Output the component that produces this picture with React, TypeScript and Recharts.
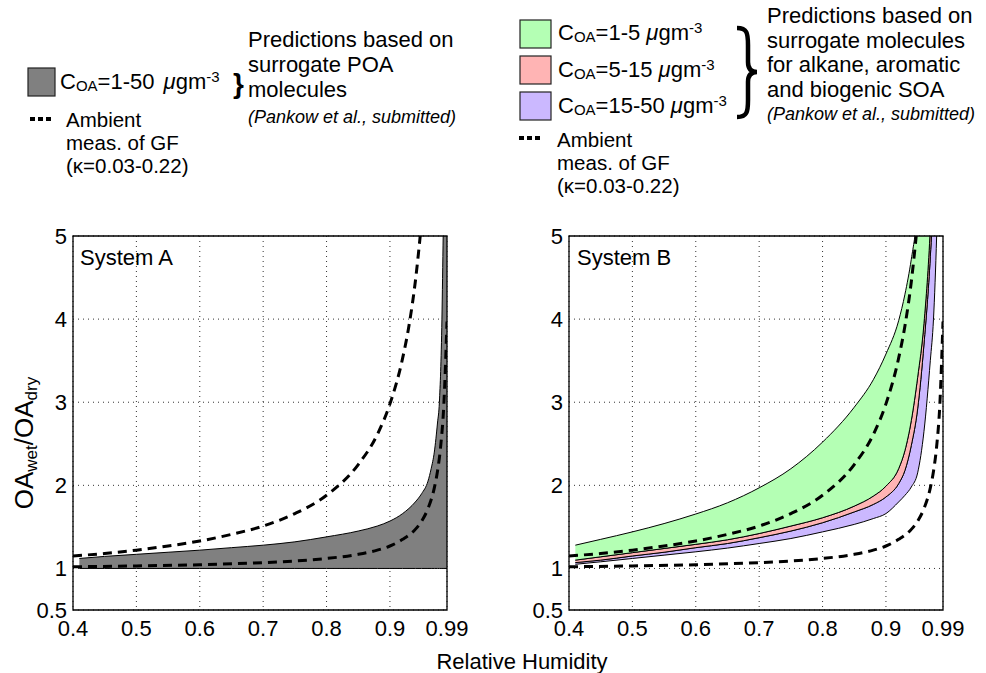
import { ComposedChart, Area, Line, XAxis, YAxis, CartesianGrid, ReferenceArea } from "recharts";

const FONT = '"Liberation Sans", Arial, Helvetica, sans-serif';

// axis ticks
const X_TICKS = [0.4, 0.5, 0.6, 0.7, 0.8, 0.9, 0.99];
const Y_TICKS = [0.5, 1, 2, 3, 4, 5];

// ambient GF measurements (dashed), upper and lower bound
const GF_HIGH_RH = [0.4, 0.45, 0.5, 0.55, 0.6, 0.65, 0.7, 0.75, 0.8, 0.85, 0.88, 0.9, 0.92, 0.93, 0.94, 0.95, 0.955];
const GF_HIGH = [1.15, 1.18, 1.22, 1.27, 1.33, 1.41, 1.51, 1.66, 1.88, 2.25, 2.61, 2.98, 3.53, 3.92, 4.45, 5.18, 5.6];
const GF_LOW_RH = [0.4, 0.5, 0.6, 0.7, 0.75, 0.8, 0.85, 0.88, 0.9, 0.92, 0.94, 0.95, 0.96, 0.97, 0.975, 0.98, 0.985, 0.99];
const GF_LOW = [1.02, 1.03, 1.045, 1.07, 1.09, 1.12, 1.17, 1.22, 1.27, 1.35, 1.47, 1.57, 1.72, 1.97, 2.17, 2.47, 2.97, 3.97];

// System A: POA surrogates, C_OA = 1-50
const A_RH = [0.41, 0.45, 0.5, 0.55, 0.6, 0.65, 0.7, 0.75, 0.8, 0.85, 0.88, 0.9, 0.92, 0.94, 0.95, 0.96, 0.965, 0.97, 0.975, 0.978, 0.982, 0.984, 0.99];
const A_LOW = [1, 1, 1, 1, 1, 1, 1, 1, 1, 1, 1, 1, 1, 1, 1, 1, 1, 1, 1, 1, 1, 1, 1];
const A_HIGH = [1.12, 1.145, 1.17, 1.195, 1.22, 1.25, 1.28, 1.32, 1.38, 1.45, 1.51, 1.57, 1.66, 1.8, 1.9, 2.05, 2.2, 2.4, 2.75, 3.0, 4.0, 5.0, 7.0];

// System B: SOA surrogates, band edges
const B_RH = [0.41, 0.45, 0.5, 0.55, 0.6, 0.65, 0.7, 0.75, 0.8, 0.85, 0.88, 0.9, 0.92, 0.93, 0.94, 0.95, 0.96, 0.97, 0.975, 0.98, 0.985];
const B_GREEN_TOP = [1.28, 1.35, 1.44, 1.54, 1.655, 1.79, 1.97, 2.2, 2.52, 2.94, 3.27, 3.58, 3.98, 4.3, 4.72, 5.3, 6.5, 8, 9, 10, 11];
const B_GREEN_LOW = [1.1, 1.14, 1.19, 1.24, 1.29, 1.345, 1.42, 1.51, 1.61, 1.75, 1.87, 1.99, 2.2, 2.42, 2.78, 3.3, 3.95, 5.1, 6, 7, 9];
const B_PINK_LOW = [1.07, 1.1, 1.15, 1.195, 1.25, 1.3, 1.37, 1.45, 1.55, 1.68, 1.77, 1.86, 2.02, 2.18, 2.48, 2.92, 3.7, 4.75, 5.5, 6.5, 7.5];
const B_PURPLE_LOW = [1.05, 1.08, 1.12, 1.16, 1.2, 1.245, 1.3, 1.36, 1.44, 1.53, 1.6, 1.66, 1.8, 1.88, 1.98, 2.15, 2.65, 3.5, 4.0, 5.0, 6.5];

const gfHigh = GF_HIGH_RH.map((x, i) => ({ x, y: GF_HIGH[i] }));
const gfLow = GF_LOW_RH.map((x, i) => ({ x, y: GF_LOW[i] }));
const bandA = A_RH.map((x, i) => ({ x, band: [A_LOW[i], A_HIGH[i]] }));
const bandGreen = B_RH.map((x, i) => ({ x, band: [B_GREEN_LOW[i], B_GREEN_TOP[i]] }));
const bandPink = B_RH.map((x, i) => ({ x, band: [B_PINK_LOW[i], B_GREEN_LOW[i]] }));
const bandPurple = B_RH.map((x, i) => ({ x, band: [B_PURPLE_LOW[i], B_PINK_LOW[i]] }));

const tickStyle = { fontSize: 22, fill: "#000", fontFamily: FONT };

const dashedLine = (data: { x: number; y: number }[], key: string) => (
    <Line
        key={key}
        data={data}
        dataKey="y"
        type="monotone"
        stroke="#000"
        strokeWidth={3}
        strokeDasharray="9 6"
        dot={false}
        activeDot={false}
        isAnimationActive={false}
    />
);

const band = (data: any[], fill: string, key: string) => (
    <Area
        key={key}
        data={data}
        dataKey="band"
        type="monotone"
        stroke="#000"
        strokeWidth={1}
        fill={fill}
        fillOpacity={1}
        dot={false}
        activeDot={false}
        isAnimationActive={false}
    />
);

const Panel = ({ children }: { children: any }) => (
    <ComposedChart width={490} height={473} margin={{ top: 36, right: 43, bottom: 33, left: 13 }} style={{ fontFamily: FONT }}>
        <CartesianGrid stroke="#333" strokeDasharray="1 4" />
        <XAxis
            type="number"
            dataKey="x"
            domain={[0.4, 0.99]}
            ticks={X_TICKS}
            interval={0}
            allowDataOverflow
            axisLine={false}
            tickLine={false}
            tickSize={0}
            tickMargin={10}
            height={30}
            tick={tickStyle}
        />
        <YAxis
            type="number"
            domain={[0.5, 5]}
            ticks={Y_TICKS}
            interval={0}
            allowDataOverflow
            axisLine={false}
            tickLine={false}
            tickSize={0}
            tickMargin={6}
            width={60}
            tick={tickStyle}
        />
        {children}
        <ReferenceArea x1={0.4} x2={0.99} y1={0.5} y2={5} fill="none" stroke="#000" strokeWidth={1.3} />
    </ComposedChart>
);

const Coa = ({ x, y, range, gap = 0 }: { x: number; y: number; range: string; gap?: number }) => (
    <text x={x} y={y} fontSize={22}>
        C<tspan fontSize={15} dy={2}>OA</tspan>
        <tspan dy={-2}>={range} </tspan>
        <tspan dx={gap} fontStyle="italic">μ</tspan>gm
        <tspan fontSize={15} dy={-7}>-3</tspan>
    </text>
);

const Ambient = ({ x, y }: { x: number; y: number }) => (
    <text fontSize={20.5}>
        <tspan x={x} y={y}>Ambient</tspan>
        <tspan x={x} y={y + 23}>meas. of GF</tspan>
        <tspan x={x} y={y + 46}>(κ=0.03-0.22)</tspan>
    </text>
);

export default function App() {
    return (
        <div style={{ position: "absolute", left: 0, top: 0, width: 986, height: 673, background: "#fff", fontFamily: FONT }}>
            <div style={{ position: "absolute", left: 0, top: 200 }}>
                <Panel>
                    {band(bandA, "#808080", "a")}
                    {dashedLine(gfHigh, "ah")}
                    {dashedLine(gfLow, "al")}
                </Panel>
            </div>
            <div style={{ position: "absolute", left: 496, top: 200 }}>
                <Panel>
                    {band(bandPurple, "#cbb8ff", "bp")}
                    {band(bandPink, "#ffb4b4", "bk")}
                    {band(bandGreen, "#b4ffb4", "bg")}
                    {dashedLine(gfHigh, "bh")}
                    {dashedLine(gfLow, "bl")}
                </Panel>
            </div>

            <svg width={986} height={673} style={{ position: "absolute", left: 0, top: 0, pointerEvents: "none", fontFamily: FONT }}>
                {/* left legend */}
                <rect x={28} y={68} width={27} height={28} fill="#808080" stroke="#222" strokeWidth={1.2} />
                <Coa x={60} y={89} range="1-50" gap={3} />
                <text x={233} y={93} fontSize={28} fontWeight="bold">{"}"}</text>
                <text fontSize={22}>
                    <tspan x={248} y={47}>Predictions based on</tspan>
                    <tspan x={248} y={72}>surrogate POA</tspan>
                    <tspan x={248} y={97}>molecules</tspan>
                </text>
                <text x={248} y={123} fontSize={18} fontStyle="italic">(Pankow et al., submitted)</text>
                <line x1={30} x2={51} y1={119} y2={119} stroke="#000" strokeWidth={4} strokeDasharray="5 3" />
                <Ambient x={66} y={126.5} />

                {/* right legend */}
                <rect x={520} y={20} width={31} height={28} fill="#b4ffb4" stroke="#222" strokeWidth={1.2} />
                <rect x={520} y={56} width={31} height={28} fill="#ffb4b4" stroke="#222" strokeWidth={1.2} />
                <rect x={520} y={92} width={31} height={28} fill="#cbb8ff" stroke="#222" strokeWidth={1.2} />
                <Coa x={558} y={40} range="1-5" />
                <Coa x={558} y={76.5} range="5-15" />
                <Coa x={558} y={112.5} range="15-50" />
                <path
                    d="M 737 28 C 747 28, 748 33, 748 45 L 748 62 C 748 69, 751 72, 757 72 C 751 72, 748 75, 748 82 L 748 100 C 748 112, 747 117, 737 117"
                    fill="none"
                    stroke="#000"
                    strokeWidth={4.5}
                />
                <text fontSize={22}>
                    <tspan x={767} y={23}>Predictions based on</tspan>
                    <tspan x={767} y={47.5}>surrogate molecules</tspan>
                    <tspan x={767} y={72}>for alkane, aromatic</tspan>
                    <tspan x={767} y={96.5}>and biogenic SOA</tspan>
                </text>
                <text x={767} y={120} fontSize={18} fontStyle="italic">(Pankow et al., submitted)</text>
                <line x1={519} x2={540} y1={138} y2={138} stroke="#000" strokeWidth={4} strokeDasharray="5 3" />
                <Ambient x={557} y={147} />

                {/* panel labels */}
                <text x={80} y={265} fontSize={22}>System A</text>
                <text x={577} y={265} fontSize={22}>System B</text>

                {/* axis titles */}
                <text transform="translate(33,443) rotate(-90)" textAnchor="middle" fontSize={26}>
                    OA<tspan fontSize={17} dy={4}>wet</tspan>
                    <tspan dy={-4}>/OA</tspan>
                    <tspan fontSize={17} dy={4}>dry</tspan>
                </text>
                <text x={522} y={669} textAnchor="middle" fontSize={22}>Relative Humidity</text>
            </svg>
        </div>
    );
}
